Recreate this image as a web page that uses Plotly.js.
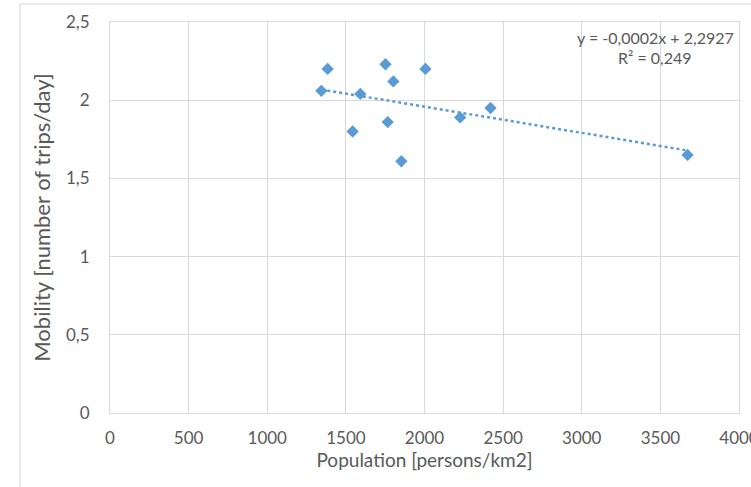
<!DOCTYPE html>
<html>
<head>
<meta charset="utf-8">
<script src="https://cdn.plot.ly/plotly-3.0.1.min.js"></script>
<style>html,body{margin:0;padding:0;background:#fff;}#chart{width:751px;height:487px;}</style>
</head>
<body>
<div id="chart"></div>
<script>
// Data
const population = [1344, 1384, 1543, 1592, 1752, 1766, 1802, 1853, 2006, 2227, 2420, 3673];
const mobility   = [2.06, 2.20, 1.80, 2.04, 2.23, 1.86, 2.12, 1.61, 2.20, 1.89, 1.95, 1.65];
const xTicks = [0, 500, 1000, 1500, 2000, 2500, 3000, 3500, 4000];
const yTicks = [0, 0.5, 1, 1.5, 2, 2.5];
const equationText = "y = -0,0002x + 2,2927";
const r2Text = "R² = 0,249";

// Least-squares linear trendline over the data range
const n = population.length;
const mx = population.reduce((a, b) => a + b, 0) / n;
const my = mobility.reduce((a, b) => a + b, 0) / n;
let sxy = 0, sxx = 0;
for (let i = 0; i < n; i++) { sxy += (population[i] - mx) * (mobility[i] - my); sxx += (population[i] - mx) ** 2; }
const slope = sxy / sxx, intercept = my - slope * mx;
const xMin = Math.min(...population), xMax = Math.max(...population);
const trendX = [xMin, xMax];
const trendY = trendX.map(x => intercept + slope * x);

const blue = '#5B9BD5';
const grey = '#595959';
const grid = '#D9D9D9';
const font = 'Lato, "Open Sans", sans-serif';

const traces = [
  { x: trendX, y: trendY, mode: 'lines', type: 'scatter',
    line: { color: blue, width: 2.5, dash: 'dot' }, hoverinfo: 'skip', showlegend: false },
  { x: population, y: mobility, mode: 'markers', type: 'scatter',
    marker: { symbol: 'diamond', size: 9.5, color: blue }, showlegend: false }
];

const layout = {
  width: 751, height: 487,
  margin: { l: 110, r: 12, t: 22, b: 74, pad: 0 },
  paper_bgcolor: '#ffffff', plot_bgcolor: '#ffffff',
  separators: ', ',
  font: { family: font, color: grey, size: 17 },
  showlegend: false,
  xaxis: {
    range: [0, 4000], tickvals: xTicks, ticktext: xTicks.map(String),
    showgrid: true, gridcolor: grid, gridwidth: 1, zeroline: false,
    showline: true, mirror: true, linecolor: grid, linewidth: 1,
    ticks: '', ticklabelstandoff: 10, ticklabeloverflow: 'allow',
    tickfont: { family: font, size: 17, color: grey },
    title: { text: 'Population [persons/km2]', font: { family: font, size: 19, color: grey }, standoff: 6 }
  },
  yaxis: {
    range: [0, 2.5], tickvals: yTicks,
    showgrid: true, gridcolor: grid, gridwidth: 1, zeroline: false,
    showline: true, mirror: true, linecolor: grid, linewidth: 1,
    ticks: '', ticklabelstandoff: 16,
    tickfont: { family: font, size: 17, color: grey },
    title: { text: 'Mobility [number of trips/day]', font: { family: font, size: 22, color: grey }, standoff: 9 }
  },
  shapes: [
    { type: 'rect', xref: 'paper', yref: 'paper', x0: -0.1431, x1: 1.2, y0: -0.4, y1: 1.046,
      line: { color: grid, width: 1 }, fillcolor: 'rgba(0,0,0,0)', layer: 'below' }
  ],
  annotations: [
    { xref: 'paper', yref: 'paper', x: 0.867, y: 0.960, text: equationText, showarrow: false,
      xanchor: 'center', yanchor: 'middle', font: { family: font, size: 16, color: grey } },
    { xref: 'paper', yref: 'paper', x: 0.867, y: 0.908, text: r2Text, showarrow: false,
      xanchor: 'center', yanchor: 'middle', font: { family: font, size: 16, color: grey } }
  ]
};

Plotly.newPlot('chart', traces, layout, { displayModeBar: false, staticPlot: true });
</script>
</body>
</html>
